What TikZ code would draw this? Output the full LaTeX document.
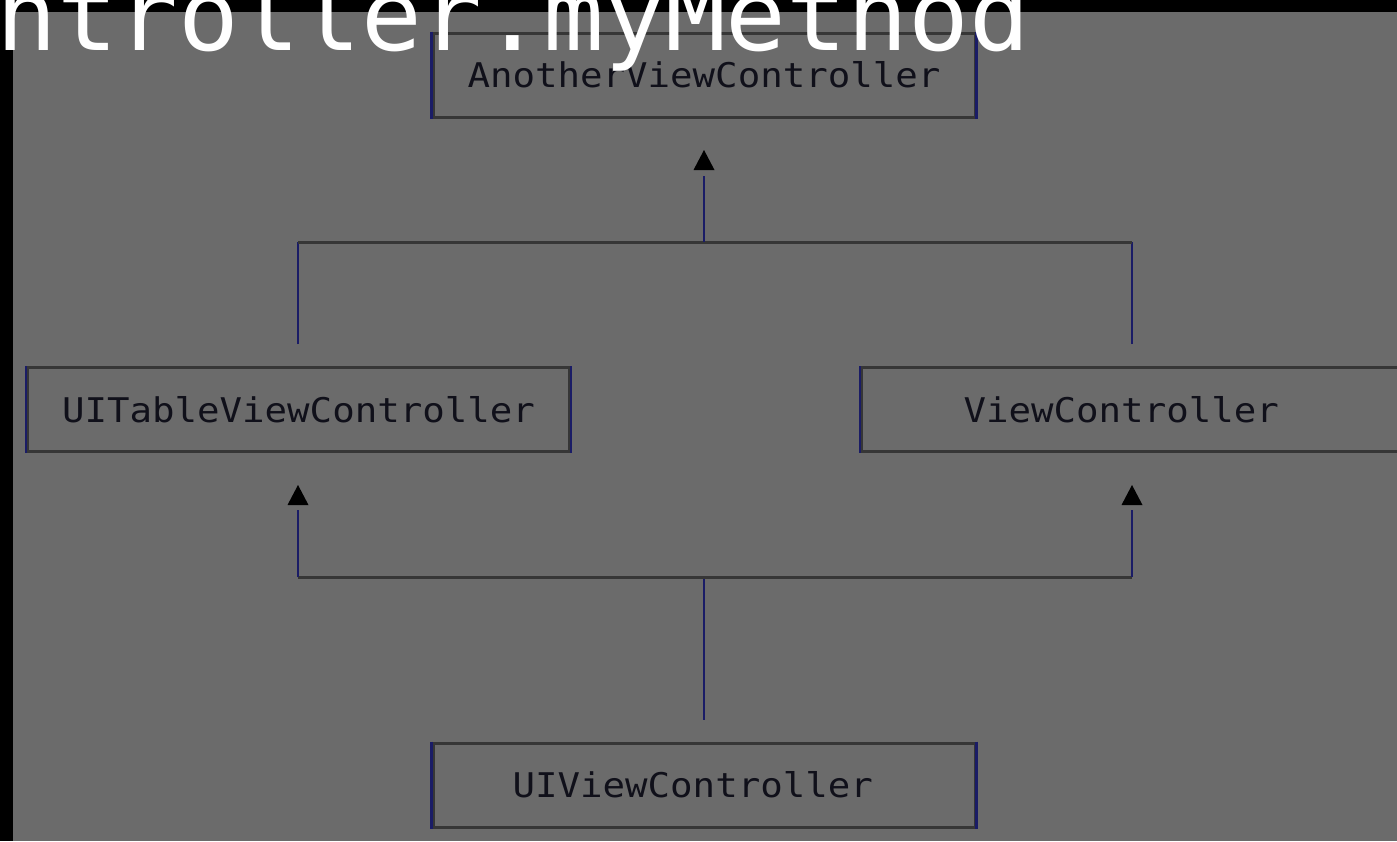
\documentclass[tikz,border=0pt]{standalone}
\usepackage{fontspec}
\newfontfamily\lblfont[FakeStretch=1.1]{DejaVu Sans Mono}
\newfontfamily\headfont[FakeStretch=1.01]{DejaVu Sans Mono}
\definecolor{panel}{HTML}{6B6B6B}
\definecolor{vblue}{HTML}{1A1C66}
\definecolor{hgray}{HTML}{363636}
\definecolor{lbltext}{HTML}{10101A}
\tikzset{
  classbox/.style={draw=hgray, line width=3pt, minimum width=542pt, minimum height=84pt,
    inner sep=0pt, text=lbltext, font=\lblfont\fontsize{34}{34}\selectfont},
  vline/.style={draw=vblue, line width=2.8pt},
  hline/.style={draw=hgray, line width=3pt},
  tiphead/.style={fill=black}
}
\newcommand\sidebars[1]{%
  \draw[vline] (#1.north west) -- (#1.south west);
  \draw[vline] (#1.north east) -- (#1.south east);}
% filled triangular inheritance head with its point at #1
\newcommand\inheadat[1]{%
  \fill[tiphead] (#1) -- ++(-10.5,20) -- ++(21,0) -- cycle;}
\begin{document}
\begin{tikzpicture}[x=1pt,y=-1pt]
  \useasboundingbox (0,0) rectangle (1397,841);
  \fill[black] (0,0) rectangle (1397,841);
  \fill[panel] (13,12) rectangle (1397,841);

  % class boxes
  \node[classbox] (avc) at (704,75) {AnotherViewController};
  \node[classbox] (utv) at (298.5,409.5) {UITableViewController};
  \node[classbox] (vc)  at (1132.5,409.5) {ViewController\phantom{x}};
  \node[classbox] (uiv) at (704,785) {UIViewController\phantom{x}};
  \sidebars{avc}\sidebars{utv}\sidebars{vc}\sidebars{uiv}

  % junction points and line ends
  \coordinate (jt)  at (704,242);
  \coordinate (jtl) at (298,242);
  \coordinate (jtr) at (1132,242);
  \coordinate (jb)  at (704,577);
  \coordinate (jbl) at (298,577);
  \coordinate (jbr) at (1132,577);
  \coordinate (endA) at (704,176);
  \coordinate (endL) at (298,510);
  \coordinate (endR) at (1132,510);
  \coordinate (tipA) at (704,150);
  \coordinate (tipL) at (298,485);
  \coordinate (tipR) at (1132,485);

  % UIViewController -> UITableViewController / ViewController
  \draw[vline] ([yshift=22pt]uiv.north) -- (jb);
  \draw[hline] (jbl) -- (jbr);
  \draw[vline] (jbl) -- (endL);
  \draw[vline] (jbr) -- (endR);
  \inheadat{tipL}\inheadat{tipR}

  % UITableViewController / ViewController -> AnotherViewController
  \draw[vline] ([yshift=22pt,xshift=-0.5pt]utv.north) -- (jtl);
  \draw[vline] ([yshift=22pt,xshift=-0.5pt]vc.north) -- (jtr);
  \draw[hline] (jtl) -- (jtr);
  \draw[vline] (jt) -- (endA);
  \inheadat{tipA}

  % heading text running across the top
  \node[anchor=base west, inner sep=0pt, text=white, font=\headfont\fontsize{100}{100}\selectfont]
    (head) at (-4,50) {ntroller.myMethod};
\end{tikzpicture}
\end{document}
